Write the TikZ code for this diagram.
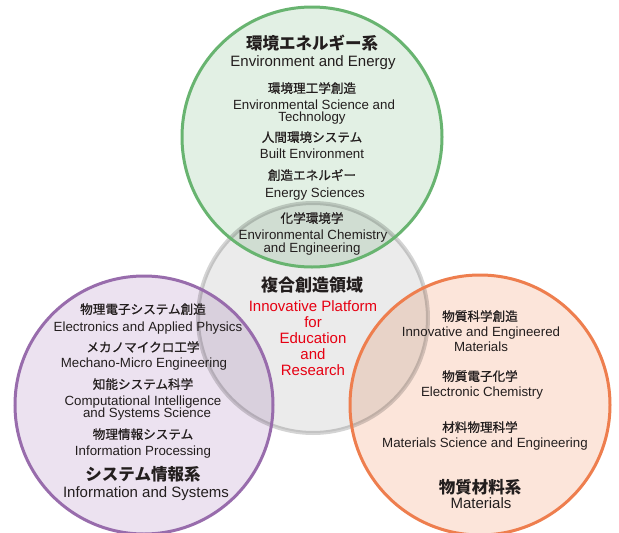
\documentclass[tikz,border=0pt]{standalone}
\usepackage{fontspec}
\setmainfont{Liberation Sans}
\newfontfamily\jp{Noto Sans CJK JP}
\newfontfamily\jpm{Noto Sans CJK JP}[FakeBold=0.8]
\definecolor{txt}{RGB}{35,30,30}
\definecolor{gstroke}{RGB}{104,180,112}
\definecolor{gfill}{RGB}{226,240,228}
\definecolor{pstroke}{RGB}{152,108,172}
\definecolor{pfill}{RGB}{236,226,240}
\definecolor{ostroke}{RGB}{238,126,78}
\definecolor{ofill}{RGB}{252,229,218}
\definecolor{redtxt}{RGB}{230,0,18}
\tikzset{
  en/.style={font=\fontsize{13.3}{15}\selectfont, anchor=base, text=txt, inner sep=0pt},
  entitle/.style={font=\fontsize{15}{17}\selectfont, anchor=base, text=txt, inner sep=0pt},
  jpsub/.style={font=\jpm\fontsize{12.6}{14}\selectfont, anchor=base, text=txt, inner sep=0pt},
  jptitle/.style={font=\jp\bfseries\fontsize{16.5}{18}\selectfont, anchor=base, text=txt, inner sep=0pt},
  redt/.style={font=\fontsize{15}{17}\selectfont, anchor=base, text=redtxt, inner sep=0pt},
}
\begin{document}
\begin{tikzpicture}[x=1pt,y=-1pt]
\useasboundingbox (0,0) rectangle (619,533);
\fill[white] (0,0) rectangle (619,533);
% fills
\fill[gfill] (312,137) circle[radius=130pt];
\fill[pfill] (144,405) circle[radius=129pt];
\fill[ofill] (480,405) circle[radius=130pt];
\fill[black, fill opacity=0.08] (313,318) circle[radius=115pt];
% strokes
\draw[black, draw opacity=0.17, line width=4pt] (313,318) circle[radius=115pt];
\draw[gstroke, line width=3pt] (312,137) circle[radius=130pt];
\draw[pstroke, line width=3pt] (144,405) circle[radius=129pt];
\draw[ostroke, line width=3pt] (480,405) circle[radius=130pt];
% green
\node[jptitle] (g0) at (312,49) {環境エネルギー系};
\node[entitle] (g1) at (313,66.4) {Environment and Energy};
\node[jpsub] (g2) at (312,92.9) {環境理工学創造};
\node[en] (g3) at (314,109.8) {Environmental Science and};
\node[en] (g4) at (312,121.8) {Technology};
\node[jpsub] (g5) at (312,141.9) {人間環境システム};
\node[en] (g6) at (312,158.8) {Built Environment};
\node[jpsub] (g7) at (312,179.9) {創造エネルギー};
\node[en] (g8) at (315,197.8) {Energy Sciences};
\node[jpsub] (g9) at (312,222.9) {化学環境学};
\node[en] (g10) at (313,239.8) {Environmental Chemistry};
\node[en] (g11) at (312,252.8) {and Engineering};
% center
\node[jptitle, font=\jp\bfseries\fontsize{17}{19}\selectfont] (c0) at (312,291.5) {複合創造領域};
\node[redt] (c1) at (313,311.4) {Innovative Platform};
\node[redt] (c2) at (313,327.4) {for};
\node[redt] (c3) at (313,343.4) {Education};
\node[redt] (c4) at (313,359.4) {and};
\node[redt] (c5) at (313,375.4) {Research};
% purple
\node[jpsub] (p0) at (143,313.9) {物理電子システム創造};
\node[en] (p1) at (148,331.8) {Electronics and Applied Physics};
\node[jpsub] (p2) at (143,351.9) {メカノマイクロ工学};
\node[en] (p3) at (144,367.8) {Mechano-Micro Engineering};
\node[jpsub] (p4) at (143,388.9) {知能システム科学};
\node[en] (p5) at (143,405.8) {Computational Intelligence};
\node[en] (p6) at (147,417.8) {and Systems Science};
\node[jpsub] (p7) at (143,438.9) {物理情報システム};
\node[en] (p8) at (143,455.8) {Information Processing};
\node[jptitle] (p9) at (143,480.3) {システム情報系};
\node[entitle] (p10) at (146,497.4) {Information and Systems};
% orange
\node[jpsub] (o0) at (480,320.9) {物質科学創造};
\node[en] (o1) at (481,336.8) {Innovative and Engineered};
\node[en] (o2) at (481,351.8) {Materials};
\node[jpsub] (o3) at (480,380.9) {物質電子化学};
\node[en] (o4) at (482,396.8) {Electronic Chemistry};
\node[jpsub] (o5) at (480,431.9) {材料物理科学};
\node[en] (o6) at (485,447.8) {Materials Science and Engineering};
\node[jptitle] (o7) at (480,493.3) {物質材料系};
\node[entitle] (o8) at (481,508.4) {Materials};
\end{tikzpicture}
\end{document}
